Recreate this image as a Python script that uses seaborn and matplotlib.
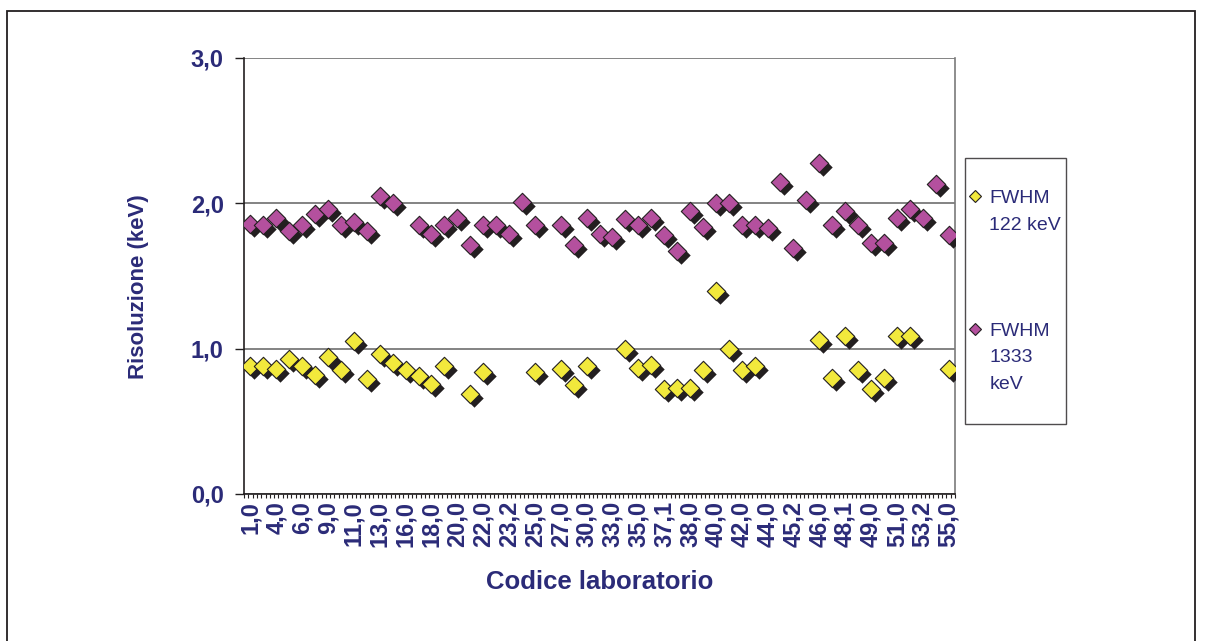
import numpy as np
import pandas as pd
import matplotlib
matplotlib.use("Agg")
import matplotlib.pyplot as plt
import seaborn as sns
from matplotlib.lines import Line2D
from matplotlib.patches import Rectangle
from matplotlib.transforms import offset_copy
from matplotlib.ticker import FuncFormatter

nan = np.nan

# lab codes (only every other one is printed on the axis)
codes = ["1,0", "3,0", "4,0", "5,0", "6,0", "8,0", "9,0", "10,0", "11,0", "12,0",
         "13,0", "15,0", "16,0", "17,0", "18,0", "19,0", "20,0", "21,0", "22,0", "23,1",
         "23,2", "24,0", "25,0", "26,0", "27,0", "29,0", "30,0", "31,0", "33,0", "34,0",
         "35,0", "36,0", "37,1", "37,2", "38,0", "39,0", "40,0", "41,0", "42,0", "43,0",
         "44,0", "45,1", "45,2", "45,3", "46,0", "47,0", "48,1", "48,2", "49,0", "50,0",
         "51,0", "52,0", "53,2", "54,0", "55,0"]

fwhm_122 = [0.88, 0.88, 0.86, 0.93, 0.88, 0.82, 0.94, 0.85, 1.05, 0.79,
            0.96, 0.90, 0.85, 0.81, 0.76, 0.88, nan, 0.69, 0.84, nan,
            nan, nan, 0.84, nan, 0.86, 0.75, 0.88, nan, nan, 1.00,
            0.87, 0.89, 0.72, 0.73, 0.73, 0.85, 1.40, 1.00, 0.85, 0.88,
            nan, nan, nan, nan, 1.06, 0.80, 1.09, 0.85, 0.72, 0.80,
            1.09, 1.09, nan, nan, 0.86]

fwhm_1333 = [1.86, 1.85, 1.90, 1.81, 1.85, 1.93, 1.96, 1.85, 1.87, 1.81,
             2.05, 2.00, nan, 1.85, 1.79, 1.85, 1.90, 1.71, 1.85, 1.85,
             1.79, 2.01, 1.85, nan, 1.85, 1.71, 1.90, 1.79, 1.77, 1.89,
             1.85, 1.90, 1.78, 1.67, 1.95, 1.84, 2.00, 2.00, 1.85, 1.85,
             1.83, 2.15, 1.69, 2.02, 2.28, 1.85, 1.95, 1.85, 1.73, 1.73,
             1.90, 1.96, 1.90, 2.13, 1.78]

series_names = ["FWHM 122 keV", "FWHM 1333 keV"]
colors = {"FWHM 122 keV": "#f2e93c", "FWHM 1333 keV": "#b4509e"}
navy = "#2b2b78"
dark = "#231f20"

df = pd.DataFrame({"codice": codes, "pos": np.arange(len(codes)),
                   "FWHM 122 keV": fwhm_122, "FWHM 1333 keV": fwhm_1333})
long_df = df.melt(id_vars=["codice", "pos"], var_name="serie",
                  value_name="fwhm").dropna()

sns.set_theme(style="white")
plt.rcParams["font.family"] = ["Liberation Sans", "DejaVu Sans"]

W, H = 1206, 641
fig = plt.figure(figsize=(W / 100, H / 100), dpi=100)
ax = fig.add_axes([244 / W, 1 - 494 / H, (955 - 244) / W, (494 - 58) / H])

# markers with an Excel-like drop shadow
shadow = offset_copy(ax.transData, fig=fig, x=4, y=-4, units="dots")
for name in series_names:
    sub = long_df[long_df["serie"] == name]
    sns.scatterplot(data=sub, x="pos", y="fwhm", marker="D", s=88,
                    color=dark, linewidth=0, ax=ax, legend=False, zorder=3)
    ax.collections[-1].set_offset_transform(shadow)
    sns.scatterplot(data=sub, x="pos", y="fwhm", marker="D", s=88,
                    color=colors[name], edgecolor=dark, linewidth=0.8,
                    ax=ax, legend=False, zorder=4)

ax.set_xlim(-0.5, len(codes) - 0.5)
ax.set_ylim(0, 3)
ax.set_yticks([0, 1, 2, 3])
ax.yaxis.set_major_formatter(FuncFormatter(lambda v, p: f"{v:.1f}".replace(".", ",")))
ax.set_xticks(df["pos"][::2])
ax.set_xticklabels(codes[::2], rotation=90)
ax.set_xticks(np.arange(-0.5, len(codes) - 0.5 + 1e-6, 1 / 3), minor=True)

ax.yaxis.grid(True, color="#7a7a7a", linewidth=1.3)
ax.set_axisbelow(True)
for side in ["left", "bottom"]:
    ax.spines[side].set_color(dark)
    ax.spines[side].set_linewidth(1.2)
ax.spines["right"].set_color("#7a7a7a")
ax.spines["right"].set_linewidth(1.2)
ax.spines["top"].set_visible(False)

ax.tick_params(axis="y", which="major", left=True, length=6.5, width=1,
               color=dark, pad=8, labelsize=17, labelcolor=navy)
ax.tick_params(axis="x", which="major", bottom=True, length=0, pad=5,
               labelsize=17, labelcolor=navy)
ax.tick_params(axis="x", which="minor", bottom=True, length=3, width=0.8,
               color=dark)
for lab in ax.get_xticklabels() + ax.get_yticklabels():
    lab.set_fontweight("bold")

ax.set_xlabel("Codice laboratorio", fontsize=18.5, fontweight="bold", color=navy)
ax.xaxis.set_label_coords(0.5, -0.175)
ax.set_ylabel("Risoluzione (keV)", fontsize=16, fontweight="bold", color=navy)
ax.yaxis.set_label_coords(-0.133, 0.475)

# legend: marker aligned with the first line of each label
blank = Line2D([], [], linestyle="none", marker="none")
mk = lambda c: Line2D([], [], linestyle="none", marker="D", markersize=6,
                      markerfacecolor=c, markeredgecolor=dark, markeredgewidth=0.8)
handles = [blank, mk(colors[series_names[0]]), blank, blank, blank, blank,
           mk(colors[series_names[1]]), blank, blank, blank]
labels = [" ", "FWHM", "122 keV", " ", " ", " ", "FWHM", "1333", "keV", " "]
leg = fig.legend(handles, labels, loc="upper left",
                 bbox_to_anchor=(965 / W, 1 - 158 / H), bbox_transform=fig.transFigure,
                 frameon=True, fancybox=False, edgecolor=dark, fontsize=14,
                 labelcolor=navy, handlelength=0.55, handletextpad=0.45,
                 labelspacing=0.46, borderpad=0.25, borderaxespad=0)
leg.get_frame().set_linewidth(1.0)

# outer chart border
fig.add_artist(Rectangle((7 / W, -0.05), (1195 - 7) / W, 1 - 11 / H + 0.05,
                         transform=fig.transFigure, fill=False,
                         edgecolor=dark, linewidth=1.3))

fig.savefig("out.png", dpi=100)
